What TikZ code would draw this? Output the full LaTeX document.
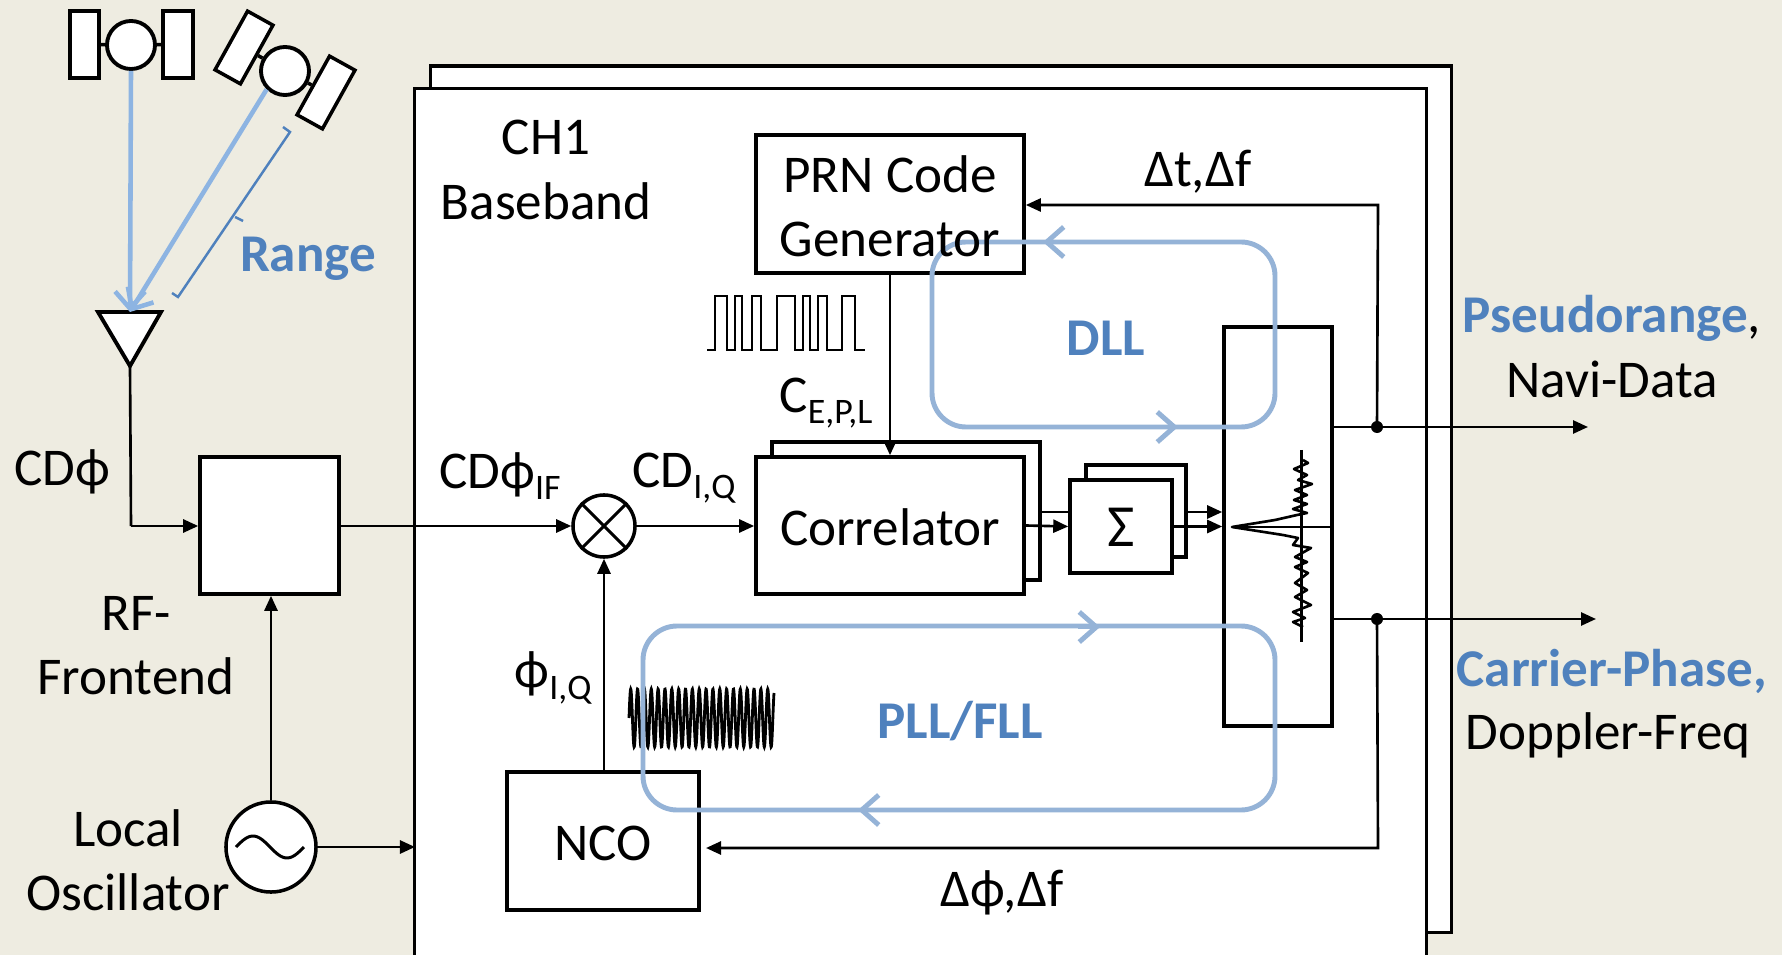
\documentclass[tikz,border=0pt]{standalone}
\usepackage{fontspec}
\setmainfont{Carlito}
\usepackage{color}
\usetikzlibrary{arrows.meta,calc}
\definecolor{paper}{HTML}{EEECE1}
\definecolor{loopblue}{HTML}{95B3D7}
\definecolor{raylight}{HTML}{8DB4E2}
\definecolor{textblue}{HTML}{4F81BD}
\newcommand{\sub}[1]{\raisebox{-0.45ex}{\fontsize{10.2}{10.2}\selectfont #1}}
\tikzset{
  lbl/.style={inner sep=0pt,font=\fontsize{15.1}{15.1}\selectfont},
  blbl/.style={lbl,text=textblue,font=\fontsize{15.1}{15.1}\selectfont\bfseries},
  block/.style={draw,fill=white,line width=1pt,inner sep=0pt},
  wire/.style={line width=0.75pt,-{Triangle[length=0.15cm,width=0.13cm]}},
  plainwire/.style={line width=0.75pt},
  satbody/.style={draw,fill=white,circle,line width=1.1pt,inner sep=0pt,minimum size=0.48cm},
  ray/.style={draw=raylight,line width=1.3pt,-{Straight Barb[length=0.17cm,width=0.3cm]}},
  loopline/.style={draw=loopblue,line width=1.4pt,rounded corners=0.34cm},
  loophead/.style={draw=loopblue,line width=1.4pt,-{Straight Barb[length=0.17cm,width=0.3cm]}}
}
\begin{document}
\begin{tikzpicture}[x=0.01cm,y=-0.01cm]
  \useasboundingbox (0,0) rectangle (1782,955);
  \fill[paper] (0,0) rectangle (1782,955);

  % channel frames
  \node[block,minimum width=10.20cm,minimum height=8.66cm] (Back) at (941,499) {};
  \node[block,minimum width=10.11cm,minimum height=8.90cm] (Ch) at (920.5,534) {};

  % satellites
  \node[block,minimum width=0.29cm,minimum height=0.67cm] (PanelA) at (84.5,44.5) {};
  \node[block,minimum width=0.30cm,minimum height=0.67cm] (PanelB) at (178,44.5) {};
  \node[satbody] (SatA) at (131,45) {};
  \draw[line width=1pt] (PanelA) -- (SatA);
  \draw[line width=1pt] (PanelB) -- (SatA);
  \node[block,rotate=61,minimum width=0.67cm,minimum height=0.29cm] (PanelC) at (244,47.5) {};
  \node[block,rotate=61,minimum width=0.67cm,minimum height=0.29cm] (PanelD) at (326,92.5) {};
  \node[satbody] (SatB) at (285,71) {};
  \draw[line width=1pt] (PanelC) -- (SatB);
  \draw[line width=1pt] (PanelD) -- (SatB);

  % antenna
  \coordinate (AntTop) at (130,312);
  \coordinate (AntTip) at (130,366);
  \draw[fill=white,line width=1.1pt] (98,312) -- (161,312) -- (AntTip) -- cycle;
  \draw[ray] (SatA.south) -- (AntTop);
  \draw[ray] (SatB.south west) -- (AntTop);

  % range bracket
  \draw[textblue,line width=0.7pt] (283,127) -- (290,132) -- (178,297) -- (172,293);
  \draw[textblue,line width=0.7pt] (235,217) -- (243,221);
  \node[blbl] (Range) at (308,259) {Range};

  % frontend
  \node[block,minimum width=1.39cm,minimum height=1.37cm] (RF) at (269.5,525.5) {};
  \node[block,circle,minimum size=0.90cm] (Osc) at (271,847) {};
  \draw[line width=0.85pt] plot[domain=-1:1,samples=30,smooth] ({270+34*\x},{847+11*sin(180*\x)});
  \coordinate (OscIn) at (415,847);
  \draw[plainwire] (AntTip) -- (131,526);
  \draw[wire] (131,526) -- (RF.west |- 0,526);
  \draw[wire] (Osc.north) -- (RF.south -| Osc.north);
  \draw[wire] (Osc.east) -- (OscIn);

  % mixer
  \node[block,circle,minimum size=0.62cm] (Mix) at (604,526) {};
  \draw[line width=0.85pt] (Mix.north west) -- (Mix.south east);
  \draw[line width=0.85pt] (Mix.north east) -- (Mix.south west);
  \draw[wire] (RF.east |- Mix.west) -- (Mix.west);

  % code path
  \node[block,minimum width=2.68cm,minimum height=1.38cm] (PRN) at (890,204) {};
  \node[block,minimum width=2.68cm,minimum height=1.38cm] (CorrB) at (906,511) {};
  \node[block,minimum width=2.68cm,minimum height=1.37cm] (Corr) at (890,525.5) {};
  \node[block,minimum width=1.00cm,minimum height=0.92cm] (SumB) at (1136,511) {};
  \node[block,minimum width=1.02cm,minimum height=0.93cm] (Sum) at (1121,526.5) {};
  \node[block,minimum width=1.08cm,minimum height=3.99cm] (Disc) at (1278,526.5) {};
  \node[block,minimum width=1.92cm,minimum height=1.38cm] (NCO) at (603,841) {};
  \draw[wire] (Mix.east) -- (Corr.west |- Mix.east);
  \draw[wire] (PRN.south) -- (Corr.north);
  \draw[wire] (NCO.north -| Mix.south) -- (Mix.south);
  \draw[plainwire] (CorrB.east |- 0,512) -- (Sum.west |- 0,512);
  \draw[wire] (Corr.east) -- (Sum.west);
  \draw[wire] (SumB.east |- 0,512) -- (Disc.west |- 0,512);
  \draw[wire] (Sum.east) -- (Disc.west |- Sum.east);

  % outputs and feedback
  \coordinate (OutA) at (1588,427);
  \coordinate (OutB) at (1596,619);
  \node[fill,circle,inner sep=0pt,minimum size=0.12cm] (DotA) at (1377,427) {};
  \node[fill,circle,inner sep=0pt,minimum size=0.12cm] (DotB) at (1377,619) {};
  \draw[wire] (Disc.east |- OutA) -- (OutA);
  \draw[wire] (Disc.east |- OutB) -- (OutB);
  \draw[wire] (DotA.center) -- (1378,205) -- (PRN.east |- 0,205);
  \draw[wire] (DotB.center) -- (1378,848) -- (706,848);

  % discriminator curve
  \draw[line width=0.4pt] (1232,527) -- (Disc.east |- 0,527);
  \draw[line width=0.85pt] (1301,450) -- (1301,642);
  \draw[line width=0.75pt,line join=round] (1303,460) -- (1308,463) -- (1294,469) -- (1307,475) -- (1298,480) -- (1312,484) -- (1295,490) -- (1307,495) -- (1294,500) -- (1307,504) -- (1293,509) -- (1307,513) -- (1297,515) -- (1275,520) -- (1232,527) -- (1283,535) -- (1298,538) -- (1293,545) -- (1311,548) -- (1295,557) -- (1307,562) -- (1295,567) -- (1308,573) -- (1295,583) -- (1307,590) -- (1295,597) -- (1311,605) -- (1293,612) -- (1305,618) -- (1293,622) -- (1303,627);

  % waveforms
  \draw[line width=0.75pt] (707,350) -- (715,350) -- (715,296) -- (727,296) -- (727,350) -- (735,350) -- (735,296) -- (742,296) -- (742,350) -- (752,350) -- (752,296) -- (761,296) -- (761,350) -- (777,350) -- (777,296) -- (795,296) -- (795,350) -- (803,350) -- (803,296) -- (810,296) -- (810,350) -- (818,350) -- (818,296) -- (827,296) -- (827,350) -- (842,350) -- (842,296) -- (855,296) -- (855,350) -- (865,350);
  \draw[line width=0.8pt] plot[domain=0:145,samples=600] ({629+\x},{718-29*sin(\x*52.55)});

  % tracking loops
  \draw[loopline] (932,242) rectangle (1275,427);
  \draw[loopline] (643,626) rectangle (1275,810);
  \draw[loophead] (1065,242) -- (1043,242);
  \draw[loophead] (1155,427) -- (1178,427);
  \draw[loophead] (1078,627) -- (1100,627);
  \draw[loophead] (880,810) -- (858,810);

  % labels
  \node[lbl,align=center] (ChName) at (546,170) {CH1\\[0.11cm]Baseband};
  \node[lbl,align=center] (PRNName) at (890,206) {PRN Code\\[0.11cm]Generator};
  \node[lbl] (CorrName) at (890,527) {Correlator};
  \node[lbl,font=\fontsize{17}{17}\selectfont] (SumName) at (1121,527) {Σ};
  \node[lbl] (NCOName) at (603,843) {NCO};
  \node[lbl] (Rho) at (62,472) {CDϕ};
  \node[lbl] (RhoIF) at (500,476) {CDϕ\sub{IF}};
  \node[lbl] (RhoIQ) at (684,478) {CD\sub{I,Q}};
  \node[lbl] (PhiIQ) at (553,678) {ϕ\sub{I,Q}};
  \node[lbl] (CodeEPL) at (826,403) {C\sub{E,P,L}};
  \node[lbl] (DtDf) at (1198,172) {Δt,Δf};
  \node[lbl] (DpDf) at (1002,893) {Δϕ,Δf};
  \node[lbl,align=center] (RFName) at (136,646) {RF-\\[0.11cm]Frontend};
  \node[lbl,align=center] (OscName) at (128,860) {Local\\[0.11cm]Oscillator};
  \node[blbl] (DLLName) at (1106,338) {DLL};
  \node[blbl] (PLLName) at (960,721) {PLL/FLL};
  \node[lbl] (Pseudo) at (1612,318) {\textcolor{textblue}{\bfseries Pseudorange},};
  \node[lbl] (Navi) at (1612,379) {Navi-Data};
  \node[blbl] (Carrier) at (1612,671) {Carrier-Phase,};
  \node[lbl] (Doppler) at (1608,735) {Doppler-Freq};
\end{tikzpicture}
\end{document}
